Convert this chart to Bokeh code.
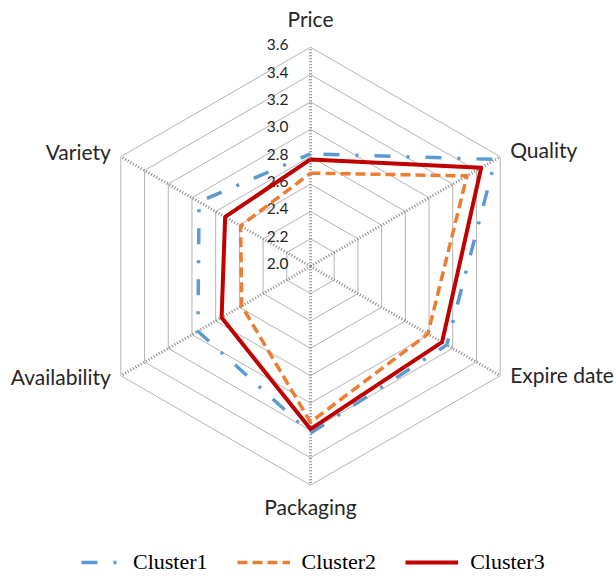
import numpy as np
from bokeh.plotting import figure
from bokeh.models import Range1d, Legend, LegendItem, ColumnDataSource
from bokeh.core.properties import value
from bokeh.embed import file_html
from bokeh.resources import INLINE

# ---- data ----
categories = ["Price", "Quality", "Expire date", "Packaging", "Availability", "Variety"]
cluster1 = [2.82, 3.56, 3.15, 3.22, 2.95, 2.94]
cluster2 = [2.68, 3.32, 2.99, 3.14, 2.58, 2.59]
cluster3 = [2.78, 3.44, 3.11, 3.19, 2.75, 2.72]
tick_values = [2.0, 2.2, 2.4, 2.6, 2.8, 3.0, 3.2, 3.4, 3.6]
tick_labels = ["2.0", "2.2", "2.4", "2.6", "2.8", "3.0", "3.2", "3.4", "3.6"]
series_names = ["Cluster1", "Cluster2", "Cluster3"]

# ---- geometry / style ----
W, H = 616, 576
R_MIN, R_MAX = 2.0, 3.6
CX, CY = 310.0, 310.3
RADIUS = 219.0
n = len(categories)
angles = np.deg2rad(90 - 60 * np.arange(n))


def radius(vals):
    return (np.asarray(vals, dtype=float) - R_MIN) / (R_MAX - R_MIN) * RADIUS


def polar(vals):
    r = radius(vals)
    return CX + r * np.cos(angles), CY + r * np.sin(angles)


p = figure(width=W, height=H, output_backend="svg", toolbar_location=None,
           x_range=Range1d(0, W), y_range=Range1d(0, H),
           x_axis_location=None, y_axis_location=None, min_border=0)
p.grid.visible = False
p.outline_line_color = None
p.background_fill_color = "white"
p.border_fill_color = "white"

# rings
for tv in tick_values[1:]:
    xs, ys = polar([tv] * n)
    p.line(list(xs) + [xs[0]], list(ys) + [ys[0]], line_color="#b4b4b4", line_width=1)

# spokes (dotted)
ox, oy = polar([R_MAX] * n)
cx0, cy0 = polar([R_MIN] * n)
p.segment(x0=cx0, y0=cy0, x1=ox, y1=oy, line_color="#8a8a8a", line_width=3, line_dash="1 2")

# tick labels (along the Price axis)
ty = CY + radius(tick_values)
tsrc = ColumnDataSource(dict(x=[CX - 22] * len(tick_values), y=list(ty + 2.5), t=tick_labels))
p.text(x="x", y="y", text="t", source=tsrc, text_font=value("Lato"), text_font_size="15.5px",
       text_align="right", text_baseline="middle", text_color="#262626")

# category labels
label_off = [(0, 29, "center"), (10, 7, "left"), (10, 1, "left"),
             (0, -21, "center"), (-10, -1, "right"), (-10, 5, "right")]
for i in range(n):
    p.text(x=[ox[i] + label_off[i][0]], y=[oy[i] + label_off[i][1]], text=[categories[i]],
           text_font=value("Lato"), text_font_size="21px", text_align=label_off[i][2],
           text_baseline="middle", text_color="#262626")

# series
styles = [("#5B9BD5", 3.5, "16 16 3 16", 38), ("#ED7D31", 3.5, "10 5", 0), ("#C00000", 4, "solid", 0)]
renderers = []
for vals, (col, lw, dash, doff) in zip([cluster1, cluster2, cluster3], styles):
    xs, ys = polar(vals)
    r = p.line(list(xs) + [xs[0]], list(ys) + [ys[0]], line_color=col, line_width=lw,
               line_dash=dash, line_dash_offset=doff, line_join="round")
    renderers.append(r)

legend = Legend(items=[LegendItem(label=nm, renderers=[rr]) for nm, rr in zip(series_names, renderers)],
                orientation="horizontal", location=(68, 1),
                glyph_width=53, glyph_height=20, label_height=20, label_standoff=12,
                spacing=29, padding=0, margin=0, border_line_color=None,
                background_fill_alpha=0, label_text_font="Liberation Serif",
                label_text_font_size="22px", label_text_color="black")
p.add_layout(legend)

open("out.html", "w").write(file_html(p, INLINE))
